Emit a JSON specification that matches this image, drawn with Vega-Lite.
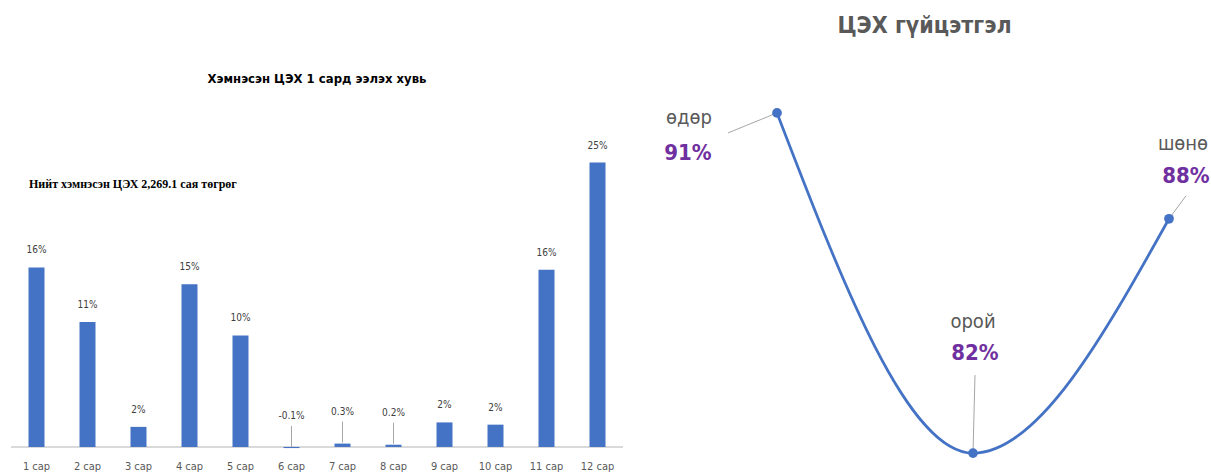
{
  "$schema": "https://vega.github.io/schema/vega-lite/v6.json",
  "background": "white",
  "padding": {"left": 10, "top": 15, "right": 0, "bottom": 0},
  "bounds": "flush",
  "spacing": 58,
  "config": {"view": {"stroke": null}, "font": "DejaVu Sans Condensed, Roboto, sans-serif"},
  "datasets": {
    "months": [
      {"month": "1 сар", "share": 16.1, "label": "16%"},
      {"month": "2 сар", "share": 11.2, "label": "11%"},
      {"month": "3 сар", "share": 1.8, "label": "2%"},
      {"month": "4 сар", "share": 14.6, "label": "15%"},
      {"month": "5 сар", "share": 10.0, "label": "10%"},
      {"month": "6 сар", "share": -0.1, "label": "-0.1%"},
      {"month": "7 сар", "share": 0.3, "label": "0.3%"},
      {"month": "8 сар", "share": 0.2, "label": "0.2%"},
      {"month": "9 сар", "share": 2.2, "label": "2%"},
      {"month": "10 сар", "share": 2.0, "label": "2%"},
      {"month": "11 сар", "share": 15.9, "label": "16%"},
      {"month": "12 сар", "share": 25.5, "label": "25%"}
    ],
    "shifts": [
      {"shift": "өдөр", "rate": 0.91},
      {"shift": "орой", "rate": 0.82},
      {"shift": "шөнө", "rate": 0.882}
    ]
  },
  "hconcat": [
    {
      "width": 612,
      "height": 400,
      "title": {"text": "Хэмнэсэн ЦЭХ 1 сард ээлэх хувь", "fontSize": 13, "fontWeight": "bold", "color": "#000000", "font": "DejaVu Sans Condensed, Roboto, sans-serif", "offset": -26},
      "data": {"name": "months"},
      "layer": [
        {
          "mark": {"type": "rule", "color": "#D9D9D9", "strokeWidth": 1},
          "encoding": {"y": {"datum": 0, "type": "quantitative", "scale": {"domain": [-1.17, 34.7], "nice": false, "zero": false}, "axis": null}}
        },
        {
          "mark": {"type": "bar", "color": "#4472C4", "width": 16},
          "encoding": {
            "x": {"field": "month", "type": "ordinal", "sort": null, "scale": {"paddingInner": 0, "paddingOuter": 0},
              "axis": {"title": null, "domain": false, "ticks": false, "tickSize": 0, "labelPadding": 0, "labelAngle": 0, "labelFontSize": 11, "labelColor": "#595959", "labelFont": "DejaVu Sans Condensed, Roboto, sans-serif"}},
            "y": {"field": "share", "type": "quantitative", "scale": {"domain": [-1.17, 34.7], "nice": false, "zero": false}, "axis": null}
          }
        },
        {
          "transform": [{"filter": "abs(datum.share) >= 1"}],
          "mark": {"type": "text", "baseline": "middle", "dy": -17, "fontSize": 10, "color": "#404040"},
          "encoding": {
            "x": {"field": "month", "type": "ordinal", "sort": null},
            "y": {"field": "share", "type": "quantitative", "scale": {"domain": [-1.17, 34.7], "nice": false, "zero": false}},
            "text": {"field": "label"}
          }
        },
        {
          "transform": [{"filter": "abs(datum.share) < 1"}],
          "mark": {"type": "text", "baseline": "middle", "dy": -32, "fontSize": 10, "color": "#404040"},
          "encoding": {
            "x": {"field": "month", "type": "ordinal", "sort": null},
            "y": {"field": "share", "type": "quantitative", "scale": {"domain": [-1.17, 34.7], "nice": false, "zero": false}},
            "text": {"field": "label"}
          }
        },
        {
          "transform": [{"filter": "abs(datum.share) < 1"}],
          "mark": {"type": "rule", "color": "#A6A6A6", "strokeWidth": 1, "yOffset": -1, "y2Offset": -22},
          "encoding": {
            "x": {"field": "month", "type": "ordinal", "sort": null},
            "y": {"field": "share", "type": "quantitative", "scale": {"domain": [-1.17, 34.7], "nice": false, "zero": false}},
            "y2": {"field": "share"}
          }
        },
        {
          "data": {"values": [{"t": "Нийт хэмнэсэн ЦЭХ 2,269.1 сая төгрөг"}]},
          "mark": {"type": "text", "align": "left", "baseline": "middle", "dx": -7.5, "font": "Liberation Serif", "fontWeight": "bold", "fontSize": 12, "color": "#000000"},
          "encoding": {
            "x": {"datum": "1 сар", "type": "ordinal"},
            "y": {"datum": 23.6, "type": "quantitative", "scale": {"domain": [-1.17, 34.7], "nice": false, "zero": false}},
            "text": {"field": "t"}
          }
        }
      ]
    },
    {
      "width": 531,
      "height": 412,
      "title": {"text": "ЦЭХ гүйцэтгэл", "fontSize": 23, "fontWeight": "bold", "color": "#595959", "font": "DejaVu Sans Condensed, Roboto, sans-serif", "offset": 22, "dx": -22},
      "data": {"name": "shifts"},
      "encoding": {
        "x": {"field": "shift", "type": "ordinal", "sort": null, "scale": {"type": "point", "range": [96, 488], "padding": 0}, "axis": null},
        "y": {"field": "rate", "type": "quantitative", "scale": {"domain": [0.815, 0.924], "nice": false, "zero": false}, "axis": null}
      },
      "layer": [
        {"mark": {"type": "line", "interpolate": "monotone", "color": "#4472C4", "strokeWidth": 2.75}},
        {
          "transform": [{"filter": "datum.shift == 'өдөр'"}],
          "mark": {"type": "rule", "color": "#A6A6A6", "strokeWidth": 1, "x2Offset": -49, "y2Offset": 20},
          "encoding": {"x2": {"field": "shift"}, "y2": {"field": "rate"}}
        },
        {
          "transform": [{"filter": "datum.shift == 'орой'"}],
          "mark": {"type": "rule", "color": "#A6A6A6", "strokeWidth": 1, "x2Offset": 2, "y2Offset": -78},
          "encoding": {"x2": {"field": "shift"}, "y2": {"field": "rate"}}
        },
        {
          "transform": [{"filter": "datum.shift == 'шөнө'"}],
          "mark": {"type": "rule", "color": "#A6A6A6", "strokeWidth": 1, "x2Offset": 17, "y2Offset": -23},
          "encoding": {"x2": {"field": "shift"}, "y2": {"field": "rate"}}
        },
        {"mark": {"type": "point", "filled": true, "opacity": 1, "color": "#4472C4", "size": 95}},
        {
          "transform": [{"filter": "datum.shift == 'өдөр'"}],
          "mark": {"type": "text", "baseline": "middle", "dx": -88, "dy": 5, "fontSize": 20, "color": "#595959"},
          "encoding": {"text": {"field": "shift"}}
        },
        {
          "transform": [{"filter": "datum.shift == 'өдөр'"}],
          "mark": {"type": "text", "baseline": "middle", "dx": -89, "dy": 40, "fontSize": 22, "fontWeight": "bold", "color": "#7030A0"},
          "encoding": {"text": {"field": "rate", "format": ".0%"}}
        },
        {
          "transform": [{"filter": "datum.shift == 'орой'"}],
          "mark": {"type": "text", "baseline": "middle", "dx": 0, "dy": -131, "fontSize": 20, "color": "#595959"},
          "encoding": {"text": {"field": "shift"}}
        },
        {
          "transform": [{"filter": "datum.shift == 'орой'"}],
          "mark": {"type": "text", "baseline": "middle", "dx": 2, "dy": -100, "fontSize": 22, "fontWeight": "bold", "color": "#7030A0"},
          "encoding": {"text": {"field": "rate", "format": ".0%"}}
        },
        {
          "transform": [{"filter": "datum.shift == 'шөнө'"}],
          "mark": {"type": "text", "baseline": "middle", "dx": 14, "dy": -75, "fontSize": 20, "color": "#595959"},
          "encoding": {"text": {"field": "shift"}}
        },
        {
          "transform": [{"filter": "datum.shift == 'шөнө'"}],
          "mark": {"type": "text", "baseline": "middle", "dx": 17, "dy": -43, "fontSize": 22, "fontWeight": "bold", "color": "#7030A0"},
          "encoding": {"text": {"field": "rate", "format": ".0%"}}
        }
      ]
    }
  ]
}
